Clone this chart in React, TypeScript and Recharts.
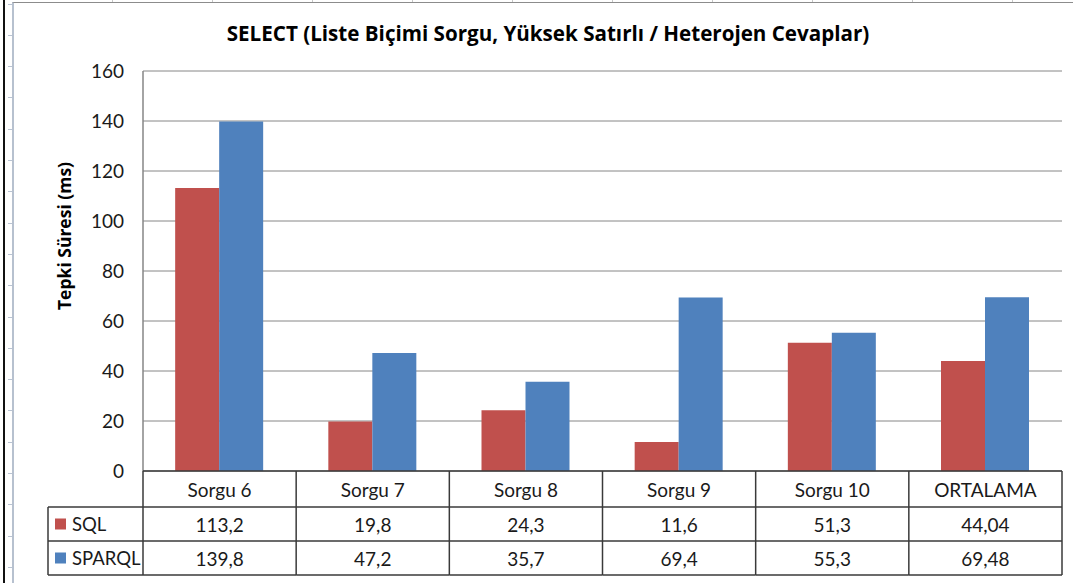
import { BarChart, Bar, XAxis, YAxis, CartesianGrid } from "recharts";

const categories = ["Sorgu 6", "Sorgu 7", "Sorgu 8", "Sorgu 9", "Sorgu 10", "ORTALAMA"];
const sqlValues = [113.2, 19.8, 24.3, 11.6, 51.3, 44.04];
const sparqlValues = [139.8, 47.2, 35.7, 69.4, 55.3, 69.48];
const seriesNames = ["SQL", "SPARQL"];
const seriesColors = ["#C0504D", "#4F81BD"];
const yTicks = [0, 20, 40, 60, 80, 100, 120, 140, 160];

const data = categories.map((c, i) => ({ name: c, sql: sqlValues[i], sparql: sparqlValues[i] }));

const FONT = "Lato, 'Open Sans', sans-serif";
const BOLD_FONT = "'Open Sans', Lato, sans-serif";
const LINE = "#3a3a3a";
const GRID = "#868686";

const fmt = (v: number) => String(v).replace(".", ",");

// x axis tick = one column of the data table under the plot
function TableTick(props: any) {
  const { x, y, payload, index, width, visibleTicksCount } = props;
  const bw = (width || 919) / (visibleTicksCount || categories.length);
  const left = x - bw / 2;
  const right = x + bw / 2;
  const r1 = y + 36;
  const r2 = r1 + 34;
  const r3 = r2 + 34;
  const txt = { fontFamily: FONT, fontSize: 19, fill: "#1a1a1a" };
  const legLeft = left - 95;
  return (
    <g>
      <line x1={left} x2={left} y1={y} y2={r3} stroke={LINE} strokeWidth={1.5} />
      {index === categories.length - 1 && (
        <line x1={right} x2={right} y1={y} y2={r3} stroke={LINE} strokeWidth={1.5} />
      )}
      {[r1, r2, r3].map((ry) => (
        <line key={ry} x1={left} x2={right} y1={ry} y2={ry} stroke={LINE} strokeWidth={1.5} />
      ))}
      <text x={x} y={(y + r1) / 2} textAnchor="middle" dominantBaseline="central" {...txt}>
        {payload.value}
      </text>
      <text x={x} y={(r1 + r2) / 2} textAnchor="middle" dominantBaseline="central" {...txt}>
        {fmt(sqlValues[index])}
      </text>
      <text x={x} y={(r2 + r3) / 2} textAnchor="middle" dominantBaseline="central" {...txt}>
        {fmt(sparqlValues[index])}
      </text>
      {index === 0 && (
        <g>
          <line x1={legLeft} x2={legLeft} y1={r1} y2={r3} stroke={LINE} strokeWidth={1.5} />
          {[r1, r2, r3].map((ry) => (
            <line key={ry} x1={legLeft} x2={left} y1={ry} y2={ry} stroke={LINE} strokeWidth={1.5} />
          ))}
          {seriesNames.map((s, i) => {
            const cy = i === 0 ? (r1 + r2) / 2 : (r2 + r3) / 2;
            return (
              <g key={s}>
                <rect x={legLeft + 7} y={cy - 5.5} width={11} height={11} fill={seriesColors[i]} />
                <text x={legLeft + 24} y={cy} dominantBaseline="central" {...txt} fontSize={18.5}>
                  {s}
                </text>
              </g>
            );
          })}
        </g>
      )}
    </g>
  );
}

export default function App() {
  return (
    <div style={{ position: "absolute", left: 0, top: 0, width: 1073, height: 583, background: "#fff", overflow: "hidden" }}>
      <div style={{ position: "absolute", left: 3, top: 0, width: 2, height: 583, background: "#111" }} />
      <div
        style={{
          position: "absolute", left: 8, top: 0, width: 4, height: 583,
          background: "repeating-linear-gradient(to bottom, transparent 0px, transparent 3.5px, #b9c3d2 3.5px, #b9c3d2 4.5px, transparent 4.5px, transparent 31.3px)",
        }}
      />
      <div
        style={{
          position: "absolute", left: 13, top: 0, width: 1060, height: 3,
          background: "repeating-linear-gradient(to right, transparent 0px, transparent 99px, #c8c8c8 99px, #c8c8c8 100px, transparent 100px, transparent 99.3px)",
        }}
      />
      <div
        style={{
          position: "absolute", left: 12, top: 2, width: 1070, height: 600,
          borderTop: "1.5px solid #8c8c8c", borderLeft: "2px solid #b7c1cf",
        }}
      />
      <div
        style={{
          position: "absolute", left: 0, top: 21, width: 1096, textAlign: "center",
          fontFamily: BOLD_FONT, fontWeight: 700, fontSize: 20.6, lineHeight: "24px", color: "#000",
        }}
      >
        SELECT (Liste Biçimi Sorgu, Yüksek Satırlı / Heterojen Cevaplar)
      </div>
      <div style={{ position: "absolute", left: 0, top: 0 }}>
        <BarChart
          width={1073}
          height={583}
          data={data}
          margin={{ top: 71, right: 11, left: 0, bottom: 8 }}
          barCategoryGap="21%"
          barGap={0}
        >
          <CartesianGrid horizontal vertical={false} stroke={GRID} strokeWidth={1} />
          <YAxis
            width={143}
            domain={[0, 160]}
            ticks={yTicks}
            interval={0}
            tickLine={false}
            tickSize={0}
            tickMargin={19}
            axisLine={{ stroke: GRID, strokeWidth: 1.5 }}
            tick={{ fontFamily: FONT, fontSize: 19, fill: "#1a1a1a" }}
            label={{
              content: () => (
                <text
                  x={64}
                  y={236}
                  transform="rotate(-90 64 236)"
                  textAnchor="middle"
                  dominantBaseline="central"
                  fontFamily={BOLD_FONT}
                  fontWeight={700}
                  fontSize={17.5}
                  fill="#000"
                >
                  Tepki Süresi (ms)
                </text>
              ),
            }}
          />
          <XAxis
            dataKey="name"
            height={104}
            interval={0}
            tickLine={false}
            tickSize={0}
            tickMargin={0}
            axisLine={{ stroke: LINE, strokeWidth: 1.5 }}
            tick={<TableTick />}
          />
          <Bar dataKey="sql" name={seriesNames[0]} fill={seriesColors[0]} isAnimationActive={false} />
          <Bar dataKey="sparql" name={seriesNames[1]} fill={seriesColors[1]} isAnimationActive={false} />
        </BarChart>
      </div>
    </div>
  );
}
